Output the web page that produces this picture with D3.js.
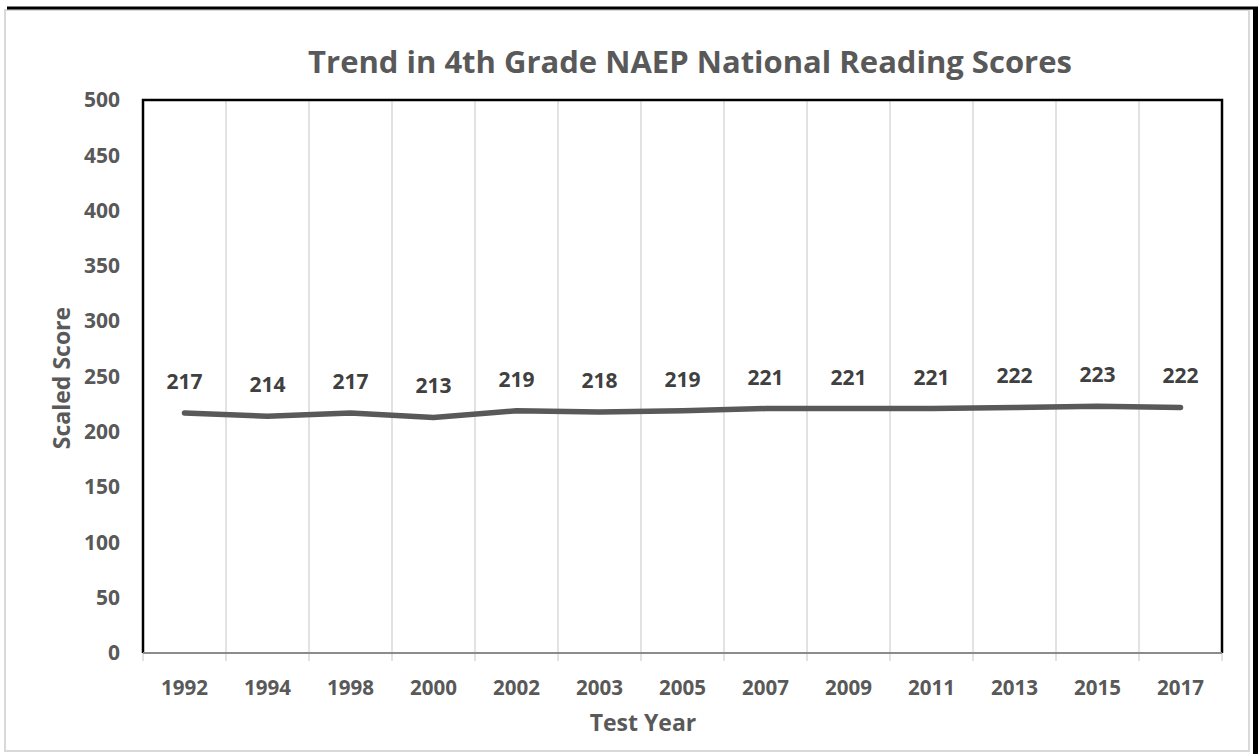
<!DOCTYPE html>
<html>
<head>
<meta charset="utf-8">
<script src="https://cdn.jsdelivr.net/npm/d3@7"></script>
<style>
  html, body { margin: 0; padding: 0; background: #fff; }
  svg { display: block; }
  text { font-family: "Open Sans", "Noto Sans", sans-serif; font-weight: 700; }
</style>
</head>
<body>
<div id="chart"></div>
<script>
(() => {
  // 年度と得点
  const years = ["1992", "1994", "1998", "2000", "2002", "2003", "2005", "2007", "2009", "2011", "2013", "2015", "2017"];
  const scores = [217, 214, 217, 213, 219, 218, 219, 221, 221, 221, 222, 223, 222];
  const yTicks = [0, 50, 100, 150, 200, 250, 300, 350, 400, 450, 500];

  const W = 1259, H = 754;
  const plot = { left: 143, right: 1222, top: 100, bottom: 653 };

  const svg = d3.select("#chart").append("svg")
    .attr("width", W).attr("height", H);

  // 文字幅を参照画像に合わせる（フォントサイズを調整）
  const fitWidth = (sel, target) => {
    sel.each(function () {
      const w = this.getComputedTextLength();
      const fs = parseFloat(this.style.fontSize);
      if (w > 0) this.style.fontSize = (fs * target / w).toFixed(2) + "px";
    });
  };

  // 外枠（影っぽい黒線＋グレー枠）
  svg.append("rect")
    .attr("x", 5).attr("y", 10).attr("width", 1244).attr("height", 741)
    .attr("fill", "#fff").attr("stroke", "#d9d9d9").attr("stroke-width", 2);
  svg.append("line")
    .attr("x1", 7).attr("x2", 1258).attr("y1", 8).attr("y2", 8)
    .attr("stroke", "#000").attr("stroke-width", 3);
  svg.append("line")
    .attr("x1", 1255.5).attr("x2", 1255.5).attr("y1", 8).attr("y2", 754)
    .attr("stroke", "#000").attr("stroke-width", 5);

  const x = d3.scaleBand().domain(years).range([plot.left, plot.right]).padding(0);
  const y = d3.scaleLinear().domain([0, 500]).range([plot.bottom, plot.top]);
  const cx = d => x(d) + x.bandwidth() / 2;

  // 縦グリッド（カテゴリ境界）
  svg.append("g")
    .selectAll("line")
    .data(years.slice(1))
    .join("line")
    .attr("x1", d => x(d)).attr("x2", d => x(d))
    .attr("y1", plot.top).attr("y2", plot.bottom)
    .attr("stroke", "#d9d9d9").attr("stroke-width", 1.5);

  // プロットエリアの枠
  svg.append("path")
    .attr("d", `M${plot.left},${plot.bottom}V${plot.top}H${plot.right}V${plot.bottom}`)
    .attr("fill", "none").attr("stroke", "#000").attr("stroke-width", 2.5);

  // X軸
  const xAxis = svg.append("g")
    .attr("transform", `translate(0,${plot.bottom})`)
    .call(d3.axisBottom(x).tickSize(0).tickPadding(27));
  xAxis.select(".domain").remove();
  xAxis.selectAll("text")
    .attr("fill", "#595959").style("font-size", "20px")
    .call(fitWidth, 47);

  svg.append("g")
    .selectAll("line")
    .data(years.concat(["end"]))
    .join("line")
    .attr("x1", (d, i) => plot.left + i * x.bandwidth())
    .attr("x2", (d, i) => plot.left + i * x.bandwidth())
    .attr("y1", plot.bottom).attr("y2", plot.bottom + 8)
    .attr("stroke", "#d9d9d9").attr("stroke-width", 1.5);

  svg.append("line")
    .attr("x1", plot.left).attr("x2", plot.right)
    .attr("y1", plot.bottom).attr("y2", plot.bottom)
    .attr("stroke", "#8c8c8c").attr("stroke-width", 2);

  // Y軸
  const yAxis = svg.append("g")
    .attr("transform", `translate(${plot.left},0)`)
    .call(d3.axisLeft(y).tickValues(yTicks).tickSize(0).tickPadding(23));
  yAxis.select(".domain").remove();
  yAxis.selectAll("text")
    .attr("fill", "#595959").style("font-size", "21px");

  // 折れ線
  const line = d3.line()
    .x((d, i) => cx(years[i]))
    .y(d => y(d));

  svg.append("path")
    .datum(scores)
    .attr("d", line)
    .attr("fill", "none")
    .attr("stroke", "#595959")
    .attr("stroke-width", 5.5)
    .attr("stroke-linejoin", "round")
    .attr("stroke-linecap", "round");

  // データラベル
  svg.append("g")
    .selectAll("text")
    .data(scores)
    .join("text")
    .attr("x", (d, i) => cx(years[i]))
    .attr("y", d => y(d) - 24)
    .attr("text-anchor", "middle")
    .attr("fill", "#404040")
    .style("font-size", "21px")
    .text(d => d);

  // タイトル・軸ラベル
  svg.append("text")
    .attr("x", 690).attr("y", 73)
    .attr("text-anchor", "middle")
    .attr("fill", "#595959")
    .style("font-size", "30px")
    .text("Trend in 4th Grade NAEP National Reading Scores")
    .call(fitWidth, 764);

  svg.append("text")
    .attr("x", 643).attr("y", 731)
    .attr("text-anchor", "middle")
    .attr("fill", "#595959")
    .style("font-size", "23px")
    .text("Test Year");

  svg.append("text")
    .attr("transform", "translate(70,378) rotate(-90)")
    .attr("text-anchor", "middle")
    .attr("fill", "#595959")
    .style("font-size", "23px")
    .text("Scaled Score");
})();
</script>
</body>
</html>
